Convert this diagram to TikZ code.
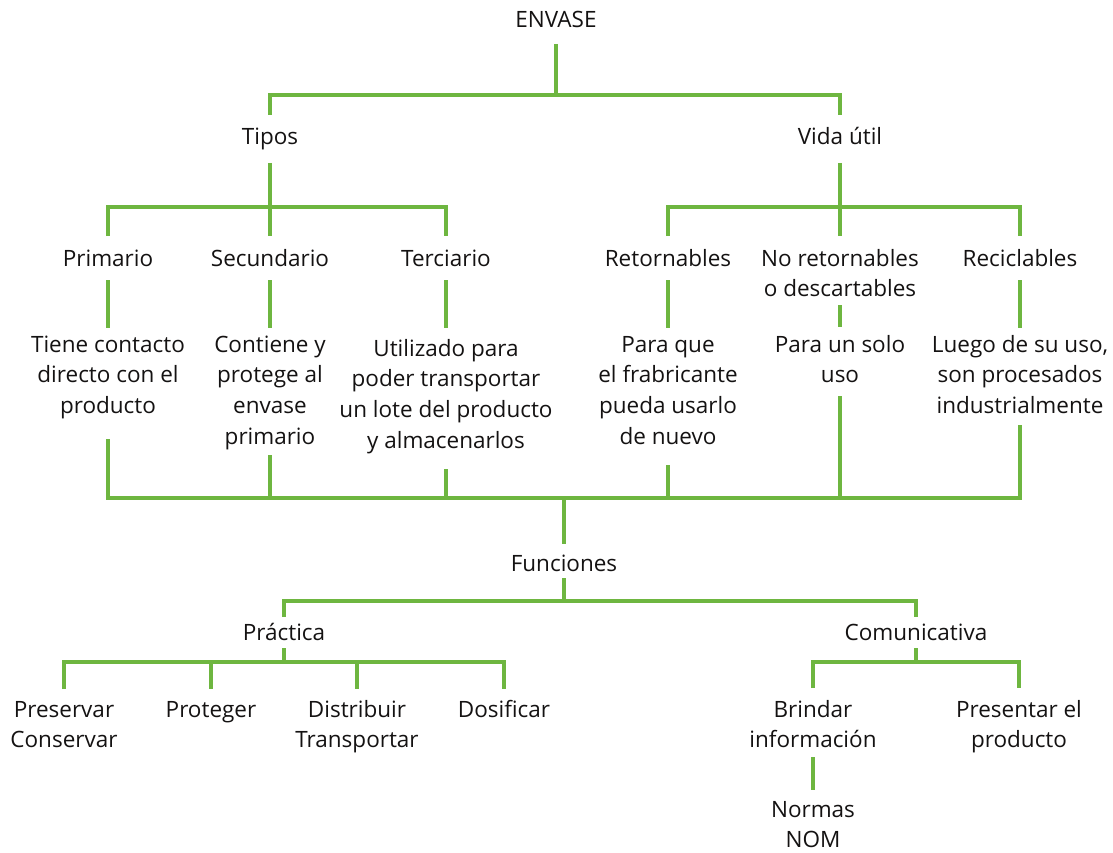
\documentclass[tikz,border=0pt]{standalone}
\usepackage{fontspec}
\setmainfont{Open Sans}
\definecolor{lgreen}{RGB}{110,182,64}
\definecolor{txt}{RGB}{20,18,18}
\newcommand\ml[1]{\begin{tabular}[t]{@{}c@{}}#1\end{tabular}}
\tikzset{
  lbl/.style={anchor=base, inner sep=0pt, text=txt, font=\fontsize{22.5}{30.7}\selectfont},
  ln/.style={draw=lgreen, line width=3.2pt, line join=miter}
}
\begin{document}
\begin{tikzpicture}[x=1pt,y=-1pt]
\useasboundingbox (0,0) rectangle (1113,853);
% nodes
\node[lbl] (envase) at (556,28) {\ml{ENVASE}};
\node[lbl] (tipos) at (270,145) {\ml{Tipos}};
\node[lbl] (vida) at (840,145) {\ml{Vida útil}};
\node[lbl] (prim) at (108,266) {\ml{Primario}};
\node[lbl] (sec) at (270,266) {\ml{Secundario}};
\node[lbl] (ter) at (446,266) {\ml{Terciario}};
\node[lbl] (ret) at (668,266) {\ml{Retornables}};
\node[lbl] (noret) at (840,266) {\ml{No retornables\\o descartables}};
\node[lbl] (rec) at (1020,266) {\ml{Reciclables}};
\node[lbl] (dprim) at (108,352) {\ml{Tiene contacto\\directo con el\\producto}};
\node[lbl] (dsec) at (270,352) {\ml{Contiene y\\protege al\\envase\\primario}};
\node[lbl] (dter) at (446,356) {\ml{Utilizado para\\poder transportar\\un lote del producto\\y almacenarlos}};
\node[lbl] (dret) at (668,352) {\ml{Para que\\el frabricante\\pueda usarlo\\de nuevo}};
\node[lbl] (dnoret) at (840,352) {\ml{Para un solo\\uso}};
\node[lbl] (drec) at (1020,352) {\ml{Luego de su uso,\\son procesados\\industrialmente}};
\node[lbl] (func) at (564,571) {\ml{Funciones}};
\node[lbl] (prac) at (284,640) {\ml{Práctica}};
\node[lbl] (com) at (916,640) {\ml{Comunicativa}};
\node[lbl] (pres) at (64,717) {\ml{Preservar\\Conservar}};
\node[lbl] (prot) at (211,717) {\ml{Proteger}};
\node[lbl] (dist) at (357,717) {\ml{Distribuir\\Transportar}};
\node[lbl] (dosi) at (504,717) {\ml{Dosificar}};
\node[lbl] (brin) at (813,717) {\ml{Brindar\\información}};
\node[lbl] (pres2) at (1019,717) {\ml{Presentar el\\producto}};
\node[lbl] (norm) at (813,817) {\ml{Normas\\NOM}};
% connectors
\draw[ln] (envase |- 0,44) -- (envase |- 0,95);
\draw[ln] (tipos |- 0,115) -- (tipos |- 0,95) -- (vida |- 0,95) -- (vida |- 0,115);
\draw[ln] (tipos |- 0,163) -- (sec |- 0,236);
\draw[ln] (prim |- 0,236) -- (prim |- 0,207) -- (ter |- 0,207) -- (ter |- 0,236);
\draw[ln] (vida |- 0,163) -- (noret |- 0,236);
\draw[ln] (ret |- 0,236) -- (ret |- 0,207) -- (rec |- 0,207) -- (rec |- 0,236);
\foreach \n in {prim,sec,ter,ret,rec}{
  \draw[ln] (\n |- 0,280) -- (\n |- 0,328);
}
\draw[ln] (noret |- 0,305) -- (dnoret |- 0,327);
\draw[ln] (dprim |- 0,439) -- (dprim |- 0,498) -- (drec |- 0,498) -- (drec |- 0,425);
\draw[ln] (dsec |- 0,455) -- (dsec |- 0,498);
\draw[ln] (dter |- 0,469) -- (dter |- 0,498);
\draw[ln] (dret |- 0,465) -- (dret |- 0,498);
\draw[ln] (dnoret |- 0,396) -- (dnoret |- 0,498);
\draw[ln] (func |- 0,498) -- (func |- 0,544);
\draw[ln] (func |- 0,578) -- (func |- 0,601);
\draw[ln] (prac |- 0,617) -- (prac |- 0,601) -- (com |- 0,601) -- (com |- 0,617);
\draw[ln] (prac |- 0,648) -- (prac |- 0,662);
\draw[ln] (pres |- 0,689) -- (pres |- 0,662) -- (dosi |- 0,662) -- (dosi |- 0,689);
\draw[ln] (prot |- 0,662) -- (prot |- 0,689);
\draw[ln] (dist |- 0,662) -- (dist |- 0,689);
\draw[ln] (com |- 0,648) -- (com |- 0,662);
\draw[ln] (brin |- 0,688) -- (brin |- 0,662) -- (pres2 |- 0,662) -- (pres2 |- 0,688);
\draw[ln] (brin |- 0,757) -- (norm |- 0,790);
\end{tikzpicture}
\end{document}
